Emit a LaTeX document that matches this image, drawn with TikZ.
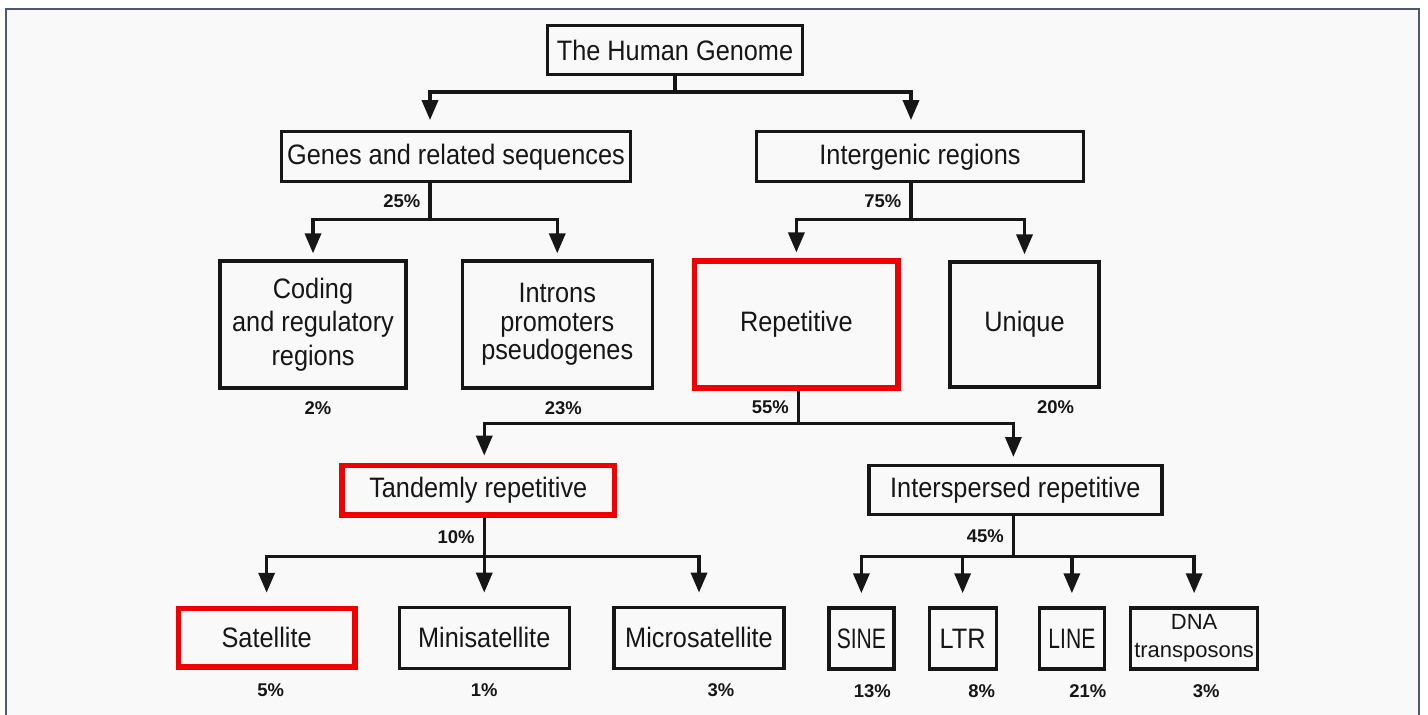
\documentclass[tikz,border=0pt]{standalone}
\usepackage{fontspec}
\setmainfont{Liberation Sans}[FakeStretch=0.9]
\newfontfamily\plainfont{Liberation Sans}
\newfontfamily\narrowfont{Liberation Sans}[FakeStretch=0.75]
\usetikzlibrary{positioning,calc,arrows.meta}

\definecolor{framecol}{RGB}{74,90,114}
\definecolor{pagecol}{RGB}{249,249,249}
\definecolor{inkcol}{RGB}{22,22,22}
\definecolor{markcol}{RGB}{240,0,0}

\begin{document}
\begin{tikzpicture}[font=\fontsize{16pt}{19pt}\selectfont,
    box/.style={rectangle, draw=inkcol, line width=0.065cm, fill=pagecol, text=inkcol, align=center, inner sep=1pt},
    markbox/.style={box, draw=markcol, line width=0.11cm},
    pct/.style={font=\plainfont\bfseries\fontsize{10.5pt}{12pt}\selectfont, text=inkcol, inner sep=2pt},
    line/.style={draw=inkcol, line width=0.07cm},
    arrow/.style={line, -{Triangle[length=0.4cm, width=0.32cm]}, shorten >=#1},
    arrow/.default=0.14cm]

    % Page and frame
    \useasboundingbox (0,0) rectangle (28.56,-14.3);
    \fill[white] (0,0) rectangle (28.56,-14.3);
    \fill[pagecol] (0.12,-0.18) rectangle (28.38,-14.3);
    \draw[framecol, line width=0.05cm] (0.12,-14.3) |- (28.38,-0.18) -- (28.38,-14.3);

    % Top row - genome and its two parts
    \node [box, minimum width=5.1cm, minimum height=0.98cm] (genome) at (13.5,-1.0) {The Human Genome};
    \node [box, minimum width=6.98cm, minimum height=1.0cm, below=1.08cm of genome, xshift=-4.38cm] (genes) {Genes and related sequences};
    \node [box, minimum width=6.54cm, minimum height=1.0cm, below=1.08cm of genome, xshift=4.9cm] (intergenic) {Intergenic regions};

    % Middle row - large boxes
    \node [box, minimum width=3.72cm, minimum height=2.54cm, below=1.52cm of genes, xshift=-2.86cm] (coding) {Coding\\and regulatory\\regions};
    \node [box, minimum width=3.8cm, minimum height=2.54cm, right=1.06cm of coding, font=\fontsize{16pt}{16.2pt}\selectfont] (introns) {Introns\\promoters\\pseudogenes};
    \node [markbox, minimum width=4.07cm, minimum height=2.53cm, right=0.76cm of introns] (repetitive) {Repetitive};
    \node [box, minimum width=2.98cm, minimum height=2.5cm, right=0.95cm of repetitive] (unique) {Unique};

    % Fourth row - kinds of repeats
    \node [markbox, minimum width=5.45cm, minimum height=0.99cm, below=1.46cm of introns, xshift=-1.58cm] (tandem) {Tandemly repetitive};
    \node [box, minimum width=5.86cm, minimum height=0.98cm, right=5.0cm of tandem] (interspersed) {Interspersed repetitive};

    % Bottom row - repeat families
    \node [box, minimum width=3.4cm, minimum height=1.22cm, below=1.76cm of tandem, xshift=0.12cm] (minisat) {Minisatellite};
    \node [markbox, minimum width=3.53cm, minimum height=1.17cm, left=0.8cm of minisat] (satellite) {Satellite};
    \node [box, minimum width=3.4cm, minimum height=1.22cm, right=0.83cm of minisat] (microsat) {Microsatellite};
    \node [box, minimum width=1.3cm, minimum height=1.22cm, below=1.8cm of interspersed, xshift=-3.08cm, font=\narrowfont\fontsize{16pt}{19pt}\selectfont] (sine) {SINE};
    \node [box, minimum width=1.34cm, minimum height=1.22cm, right=0.64cm of sine] (ltr) {LTR};
    \node [box, minimum width=1.3cm, minimum height=1.22cm, right=0.8cm of ltr, font=\narrowfont\fontsize{16pt}{19pt}\selectfont] (lineel) {LINE};
    \node [box, minimum width=2.54cm, minimum height=1.22cm, right=0.46cm of lineel, font=\plainfont\fontsize{12.5pt}{16pt}\selectfont] (dna) {DNA\\transposons};

    % Shares under the leaves
    \node [pct, below=0.16cm of coding, xshift=0.1cm] (pcoding) {2\%};
    \node [pct, below=0.16cm of introns, xshift=0.12cm] (pintrons) {23\%};
    \node [pct, below=0.16cm of unique, xshift=0.62cm] (punique) {20\%};
    \node [pct, below=0.2cm of satellite, xshift=0.08cm] (psatellite) {5\%};
    \node [pct, below=0.2cm of minisat] (pminisat) {1\%};
    \node [pct, below=0.2cm of microsat, xshift=0.44cm] (pmicrosat) {3\%};
    \node [pct, below=0.2cm of sine, xshift=0.22cm] (psine) {13\%};
    \node [pct, below=0.2cm of ltr, xshift=0.38cm] (pltr) {8\%};
    \node [pct, below=0.2cm of lineel, xshift=0.32cm] (pline) {21\%};
    \node [pct, below=0.2cm of dna, xshift=0.24cm] (pdna) {3\%};

    % Branch points
    \coordinate (fork0) at ($(genome.south)+(0,-0.32)$);
    \coordinate (fork1) at ($(genes.south)+(-0.52,-0.72)$);
    \coordinate (fork2) at ($(intergenic.south)+(-0.18,-0.72)$);
    \coordinate (fork3) at ($(repetitive.south)+(0.04,-0.66)$);
    \coordinate (fork4) at ($(tandem.south)+(0.12,-0.78)$);
    \coordinate (fork5) at ($(interspersed.south)+(-0.04,-0.8)$);

    % Tree connections
    \path [line] (genome.south) -- (fork0);
    \path [arrow=0.2cm] (fork0) -| (genes.north -| fork1);
    \path [arrow=0.2cm] (fork0) -| (intergenic.north -| fork2);
    \path [line] (genes.south -| fork1) -- node [pct, left=2.5pt] (lgenes) {25\%} (fork1);
    \path [arrow=0.12cm] (fork1) -| (coding.north);
    \path [arrow=0.12cm] (fork1) -| (introns.north);
    \path [line] (intergenic.south -| fork2) -- node [pct, left=2.5pt] (lintergenic) {75\%} (fork2);
    \path [arrow=0.12cm] (fork2) -| (repetitive.north);
    \path [arrow=0.12cm] (fork2) -| (unique.north);
    \path [line] (repetitive.south -| fork3) -- node [pct, left=2.5pt] (lrepetitive) {55\%} (fork3);
    \path [arrow] (fork3) -| (tandem.north -| fork4);
    \path [arrow] (fork3) -| (interspersed.north -| fork5);
    \path [line] (tandem.south -| fork4) -- node [pct, left=2.5pt] (ltandem) {10\%} (fork4);
    \path [arrow=0.26cm] (fork4) -| (satellite.north);
    \path [arrow=0.26cm] (fork4) -- (minisat.north -| fork4);
    \path [arrow=0.26cm] (fork4) -| (microsat.north);
    \path [line] (interspersed.south -| fork5) -- node [pct, left=2.5pt] (linterspersed) {45\%} (fork5);
    \path [arrow=0.26cm] (fork5) -| (sine.north);
    \path [arrow=0.26cm] (fork5) -| (ltr.north);
    \path [arrow=0.26cm] (fork5) -| (lineel.north);
    \path [arrow=0.26cm] (fork5) -| (dna.north);
\end{tikzpicture}
\end{document}
